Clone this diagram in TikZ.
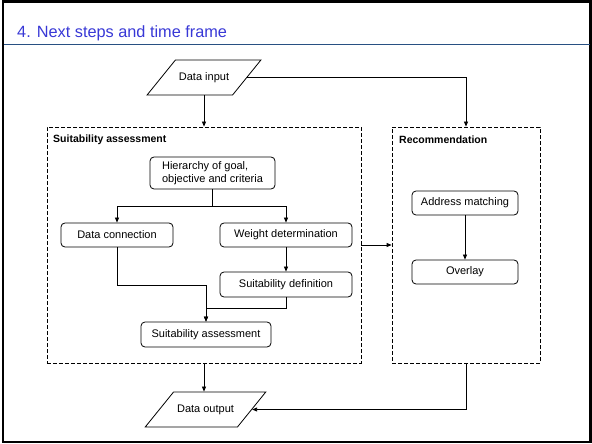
\documentclass[tikz,border=0pt]{standalone}
\usepackage{fontspec}
\setmainfont{Liberation Sans}
\usepackage{xcolor}
\usepackage{tikz}
\usetikzlibrary{arrows.meta}
\usetikzlibrary{shapes.geometric, calc}
\definecolor{titleblue}{RGB}{56,56,214}
\definecolor{ruleblue}{RGB}{40,80,130}
\tikzset{
  stepbox/.style={draw, line width=0.8bp, rounded corners=4bp, inner sep=2bp,
    font=\fontsize{11bp}{12.5bp}\selectfont},
  groupbox/.style={draw, line width=0.8bp, dash pattern=on 4bp off 2bp},
  grouptitle/.style={anchor=west, inner sep=0pt, font=\fontsize{10.5bp}{12bp}\selectfont\bfseries},
  iobox/.style={draw, line width=0.8bp, trapezium, trapezium left angle=51,
    trapezium right angle=129, text height=8bp, text depth=2.5bp,
    inner xsep=3.5bp, inner ysep=12.25bp,
    font=\fontsize{11bp}{12.5bp}\selectfont},
  arr/.style={line width=0.8bp, -{Triangle[length=5bp,width=4bp]}}
}
\begin{document}
\begin{tikzpicture}[x=1bp, y=-1bp]
                \useasboundingbox (0,0) rectangle (592,444);
                % slide frame and title
                \draw[line width=2.5bp] (3,1.5) rectangle (590.5,442);
                \draw[ruleblue, line width=0.8bp] (4,44) -- (590,44);
                \node[anchor=base west, inner sep=0pt, text=titleblue,
                      font=\fontsize{16.3bp}{19bp}\selectfont] (title) at (17,38) {4. Next steps and time frame};
                % groups
                \node[groupbox, minimum width=314bp, minimum height=236bp] (suit) at (204,245) {};
                \node[groupbox, minimum width=148bp, minimum height=236bp] (rec) at (466,245) {};
                \node[grouptitle] (suittitle) at (53,140) {Suitability assessment};
                \node[grouptitle] (rectitle) at (399,140) {Recommendation};
                % input and output
                \node[iobox] (input) at (204,77.5) {Data input};
                \node[iobox] (output) at (205.5,409.5) {Data output};
                % steps of the assessment
                \node[stepbox, align=left, minimum width=125bp, minimum height=32bp] (hier) at (212.5,173) {Hierarchy of goal,\\objective and criteria};
                \node[stepbox, minimum width=112bp, minimum height=24bp] (dataconn) at (117,235) {Data connection};
                \node[stepbox, minimum width=132bp, minimum height=24bp] (weight) at (286,235) {Weight determination};
                \node[stepbox, minimum width=132bp, minimum height=25bp] (suitdef) at (286,284.5) {Suitability definition};
                \node[stepbox, minimum width=130bp, minimum height=25bp] (assess) at (206,334.5) {Suitability assessment};
                % steps of the recommendation
                \node[stepbox, minimum width=106bp, minimum height=24bp] (address) at (465,203) {Address matching};
                \node[stepbox, minimum width=106bp, minimum height=24bp] (overlay) at (465,272) {Overlay};
                % connectors
                \draw[arr] (input.south) -- (input.south |- suit.north);
                \draw[arr] (input.east) -| (rec.north);
                \draw[arr] (hier.south) -- ++(0,17) -| (dataconn.north);
                \draw[arr] (hier.south) -- ++(0,17) -| (weight.north);
                \draw[arr] (weight.south) -- (suitdef.north);
                \draw[arr] (dataconn.south) -- ++(0,38) -| (assess.north);
                \draw[arr] (suitdef.south) -- ++(0,11) -| (assess.north);
                \draw[arr] (suit.east) -- (rec.west);
                \draw[arr] (address.south) -- (overlay.north);
                \draw[arr] (suit.south) -- (suit.south |- output.north);
                \draw[arr] (rec.south) |- (output.east);
            \end{tikzpicture}
\end{document}
